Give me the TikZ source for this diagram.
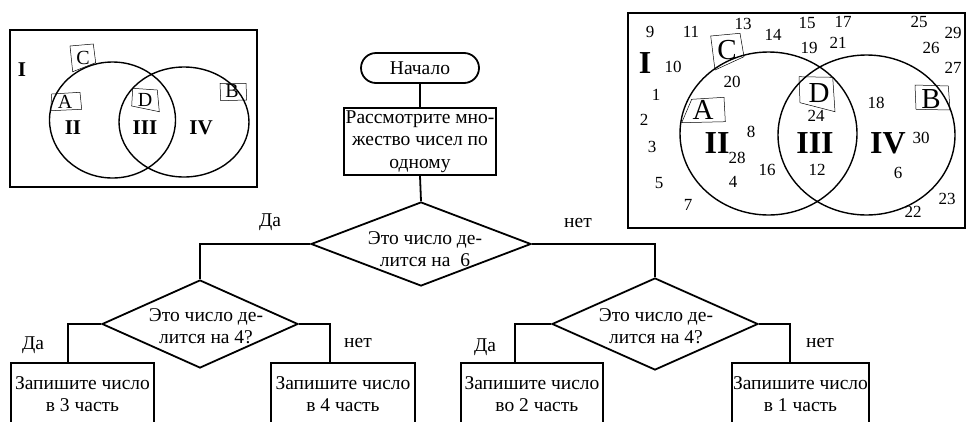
\documentclass[tikz,border=0pt]{standalone}
\usepackage{fontspec}
\setmainfont{Liberation Serif}
\usetikzlibrary{shapes.geometric,shapes.misc,calc}
\begin{document}
\begin{tikzpicture}[x=1pt,y=-1pt,
  fl/.style={line width=1.8pt},
  vn/.style={line width=1.4pt},
  tag/.style={line width=0.5pt},
  ftxt/.style={font=\fontsize{19.5}{22.5}\selectfont, inner sep=0pt, align=center},
  startbox/.style={draw, line width=1.8pt, rounded rectangle, minimum width=118, minimum height=30, inner sep=0pt, font=\fontsize{19.5}{22.5}\selectfont},
  procbox/.style={draw, line width=1.8pt, rectangle, inner sep=0pt, align=center, font=\fontsize{19.5}{22.5}\selectfont},
  decbox/.style={draw, line width=1.8pt, diamond, inner sep=0pt},
  smalllet/.style={font=\fontsize{20}{20}\selectfont, inner sep=0pt},
  smallrom/.style={font=\fontsize{21}{21}\selectfont\bfseries, inner sep=0pt},
  biglet/.style={font=\fontsize{29}{29}\selectfont, inner sep=0pt},
  bigrom/.style={font=\fontsize{32}{32}\selectfont\bfseries, inner sep=0pt},
  num/.style={font=\fontsize{17}{17}\selectfont, inner sep=0pt}
]
\useasboundingbox (0,0) rectangle (966,421);
\fill[white] (0,0) rectangle (966,421);

% ---------- left Venn ----------
\draw[vn] (10,30) rectangle (257,187);
\draw[vn] (112.5,120) ellipse [x radius=63, y radius=58];
\draw[vn] (184,122) ellipse [x radius=65, y radius=55];
\draw[tag] (70,46) -- (93.3,44) -- (95.7,62.7) -- (72.7,71.7) -- cycle;
\draw[tag] (51.7,94) -- (80,92.3) -- (81.7,109.3) -- (50.7,110.7) -- cycle;
\draw[tag] (132.7,88.3) -- (157.3,90) -- (159.3,111.7) -- (131.7,106) -- cycle;
\draw[tag] (220,83.3) -- (246,83.3) -- (246.7,100) -- (220.7,100.7) -- cycle;
\node[smalllet] (lC) at (83,58) {C};
\node[smalllet] (lA) at (65,102) {A};
\node[smalllet] (lD) at (145,100) {D};
\node[smalllet] (lB) at (232,91) {B};
\node[smallrom] (lI) at (22,70) {I};
\node[smallrom] (lII) at (73,128) {II};
\node[smallrom] (lIII) at (145,128) {III};
\node[smallrom] (lIV) at (201,128) {IV};

% ---------- right Venn ----------
\draw[vn] (628,13) rectangle (965,228);
\draw[vn] (768.5,133.5) ellipse [x radius=88.5, y radius=81.5];
\draw[vn] (866.5,135) ellipse [x radius=88.5, y radius=80];
\draw[tag] (710.7,36) -- (740,33.3) -- (744,56.7) -- (715,70) -- cycle;
\draw[tag] (691.7,99.3) -- (724,97.3) -- (725.3,121.7) -- (681.7,122.7) -- cycle;
\draw[tag] (799,76.7) -- (832.7,77.3) -- (835,111.7) -- (800,102.7) -- cycle;
\draw[tag] (915,85) -- (948.3,86) -- (950,110) -- (916,109.3) -- cycle;
\node[biglet] (rC) at (727,50) {C};
\node[biglet] (rA) at (703,110) {A};
\node[biglet] (rD) at (819,93) {D};
\node[biglet] (rB) at (931,99) {B};
\node[bigrom] (rI) at (645,63) {I};
\node[bigrom] (rII) at (717,143) {II};
\node[bigrom] (rIII) at (815,143) {III};
\node[bigrom] (rIV) at (888,143) {IV};
\node[num] (n9) at (650,32) {9};
\node[num] (n11) at (691,32) {11};
\node[num] (n13) at (743,24) {13};
\node[num] (n14) at (773,35) {14};
\node[num] (n15) at (807,23) {15};
\node[num] (n17) at (843,22) {17};
\node[num] (n25) at (919,22) {25};
\node[num] (n29) at (953,33) {29};
\node[num] (n26) at (931,48) {26};
\node[num] (n27) at (953,68) {27};
\node[num] (n19) at (809,48) {19};
\node[num] (n21) at (838,43) {21};
\node[num] (n10) at (673,67) {10};
\node[num] (n20) at (732,82) {20};
\node[num] (n1) at (656,95) {1};
\node[num] (n2) at (644,120) {2};
\node[num] (n3) at (652,147) {3};
\node[num] (n5) at (659,183) {5};
\node[num] (n7) at (688,205) {7};
\node[num] (n8) at (751,132) {8};
\node[num] (n28) at (737,158) {28};
\node[num] (n4) at (733,182) {4};
\node[num] (n16) at (767,170) {16};
\node[num] (n24) at (816,116) {24};
\node[num] (n12) at (817,170) {12};
\node[num] (n18) at (876,103) {18};
\node[num] (n30) at (921,138) {30};
\node[num] (n6) at (898,173) {6};
\node[num] (n22) at (913,212) {22};
\node[num] (n23) at (947,199) {23};

% ---------- flowchart ----------
\node[startbox] (start) at (420,68) {Начало};
\node[procbox, minimum width=152, minimum height=67] (look) at (420,141.5)
  {Рассмотрите мно-\\жество чисел по\\одному};
\node[decbox, minimum width=220, minimum height=84] (d0) at (421,244) {};
\node[ftxt] (t0) at (425,249) {Это число де-\\лится на\ \ 6};
\node[decbox, minimum width=196, minimum height=88] (d1) at (200,324) {};
\node[ftxt] (t1) at (206,326) {Это число де-\\лится на 4?};
\node[decbox, minimum width=206, minimum height=92] (d2) at (655,324) {};
\node[ftxt] (t2) at (656,326) {Это число де-\\лится на 4?};

\node[procbox, anchor=north, minimum width=143, minimum height=62] (b1) at (82.5,362) {Запишите число\\в 3 часть};
\node[procbox, anchor=north, minimum width=144, minimum height=62] (b2) at (343,362) {Запишите число\\в 4 часть};
\node[procbox, anchor=north, minimum width=142, minimum height=62] (b3) at (532,362) {Запишите число\\\ \ во 2 часть};
\node[procbox, anchor=north, minimum width=137, minimum height=62] (b4) at (800.5,362) {Запишите число\\в 1 часть};

\draw[fl] (start) -- (look);
\draw[fl] (look.south) -- (d0.north);
\draw[fl] (d0.west) -| (d1.north);
\draw[fl] (d0.east) -| (d2.north);
\draw[fl] (d1.west) -| ([xshift=-14.5pt]b1.north);
\draw[fl] (d1.east) -| ([xshift=-13pt]b2.north);
\draw[fl] (d2.west) -| ([xshift=-17pt]b3.north);
\draw[fl] (d2.east) -| ([xshift=-10.5pt]b4.north);

\node[ftxt] (y0) at (270,222) {Да};
\node[ftxt] (n0) at (578,223) {нет};
\node[ftxt] (y1) at (33,345) {Да};
\node[ftxt] (no1) at (358,343) {нет};
\node[ftxt] (y2) at (485,347) {Да};
\node[ftxt] (no2) at (820,343) {нет};
\end{tikzpicture}
\end{document}
